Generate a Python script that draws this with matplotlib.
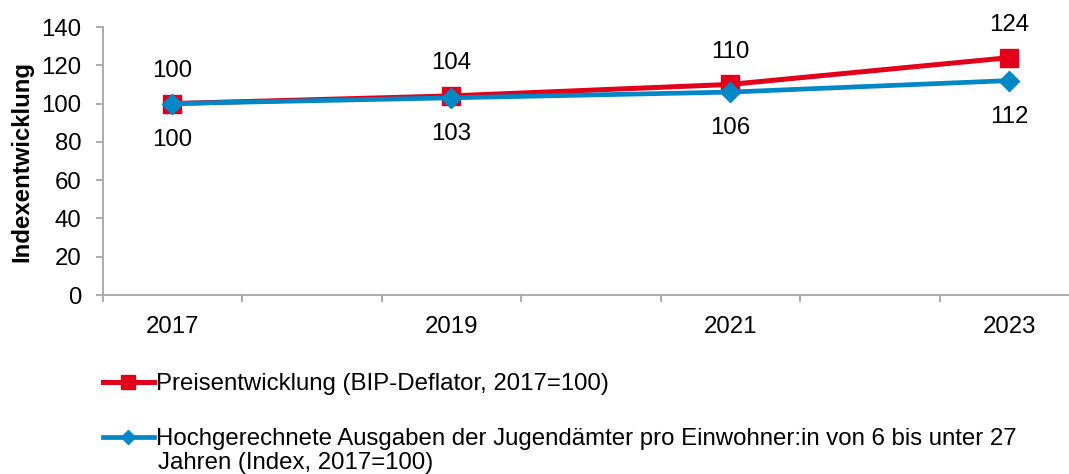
import matplotlib
matplotlib.use('Agg')
import matplotlib.pyplot as plt
import numpy as np

plt.rcParams['font.family'] = ['Liberation Sans', 'DejaVu Sans']

# data
years = [2017, 2019, 2021, 2023]
preis = [100, 104, 110, 124]
ausgaben = [100, 103, 106, 112]
labels = ['Preisentwicklung (BIP-Deflator, 2017=100)',
          'Hochgerechnete Ausgaben der Jugendämter pro Einwohner:in von 6 bis unter 27']
label2_cont = 'Jahren (Index, 2017=100)'

RED = '#E2001A'
BLUE = '#0087C6'
GREY = '#A6A6A6'
FS = 17.3

fig = plt.figure(figsize=(10.69, 4.74), dpi=100)
ax = fig.add_axes([102.5 / 1069, 179 / 474, 976.5 / 1069, 268 / 474])

l1, = ax.plot(years, preis, color=RED, lw=3.6, marker='s', ms=13, zorder=3)
l2, = ax.plot(years, ausgaben, color=BLUE, lw=3.4, marker='D', ms=10, zorder=4)

for x, y in zip(years, preis):
    ax.annotate(str(y), (x, y), xytext=(0, 23.5), textcoords='offset points',
                ha='center', va='center', fontsize=FS)
for x, y in zip(years, ausgaben):
    ax.annotate(str(y), (x, y), xytext=(0, -26), textcoords='offset points',
                ha='center', va='center', fontsize=FS)

ax.set_xlim(2016.5, 2023.5)
ax.set_ylim(0, 140)
ax.set_yticks(np.arange(0, 141, 20))
ax.set_xticks(years)
ax.set_xticks(np.arange(2016.5, 2024, 1), minor=True)
ax.tick_params(axis='x', which='major', length=0, pad=15, labelsize=FS)
ax.tick_params(axis='x', which='minor', length=5, width=1.3, color=GREY, direction='out')
ax.tick_params(axis='y', length=5, width=1.3, color=GREY, labelsize=FS, pad=10)
for s in ['top', 'right']:
    ax.spines[s].set_visible(False)
for s in ['left', 'bottom']:
    ax.spines[s].set_color(GREY)
    ax.spines[s].set_linewidth(1.3)
ax.set_ylabel('Indexentwicklung', fontsize=FS, fontweight='bold')
ax.yaxis.set_label_coords(-0.071, 0.5)

fig.legend([l1, l2], labels, loc='upper left', bbox_to_anchor=(96 / 1069, 1 - 366 / 474),
           frameon=False, fontsize=FS, handlelength=2.1, handletextpad=0.1,
           labelspacing=1.37, borderaxespad=0, borderpad=0.3, markerscale=0.75)
fig.text(158 / 1069, 1 - 463 / 474, label2_cont, fontsize=FS, ha='left', va='center')

fig.savefig('out.png', dpi=100)
